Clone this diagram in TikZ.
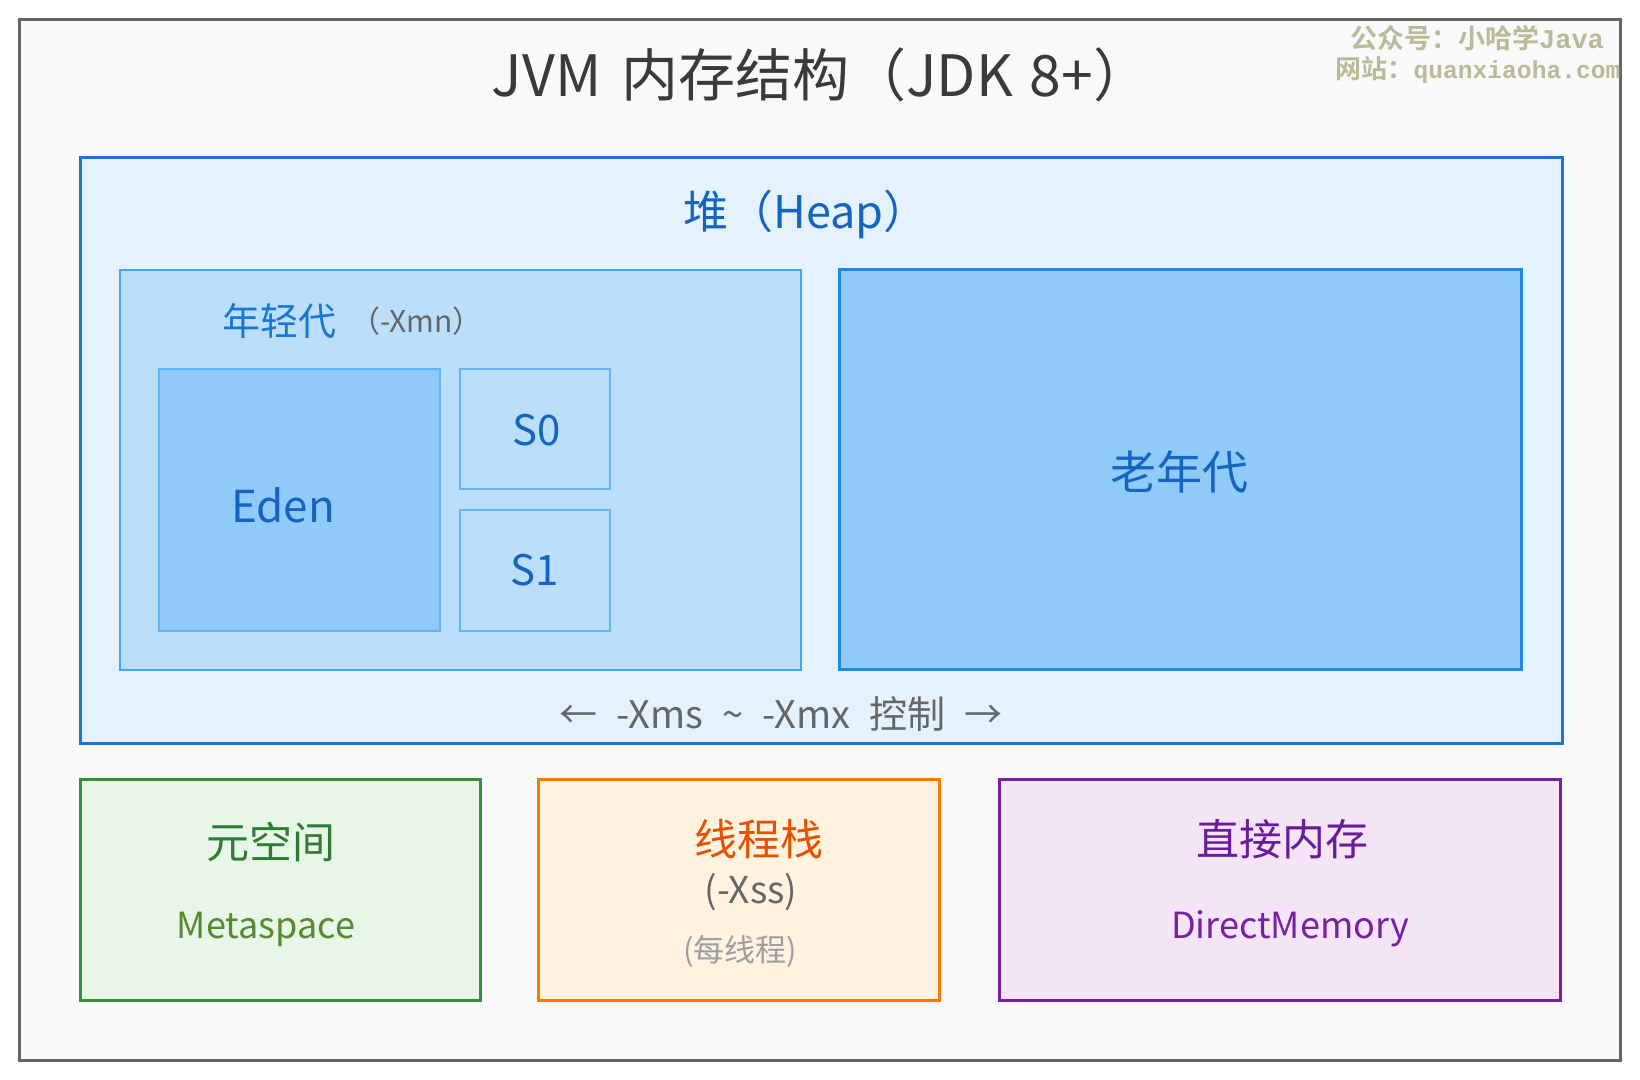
\documentclass[tikz,border=0pt]{standalone}
\usepackage{fontspec}
\setmainfont{Noto Sans CJK SC}
\newfontfamily\wmcjk{Noto Sans CJK SC Bold}
\newfontfamily\wmlat{Liberation Mono}[BoldFont={* Bold}]
\definecolor{framebg}{HTML}{F9F9F9}
\definecolor{framedraw}{HTML}{666666}
\definecolor{heapfill}{HTML}{E3F2FD}
\definecolor{heapdraw}{HTML}{1976D2}
\definecolor{youngfill}{HTML}{BBDEFB}
\definecolor{youngdraw}{HTML}{42A5F5}
\definecolor{edenfill}{HTML}{90CAF9}
\definecolor{edendraw}{HTML}{64B5F6}
\definecolor{olddraw}{HTML}{1E88E5}
\definecolor{bluetext}{HTML}{1565C0}
\definecolor{greenfill}{HTML}{E8F5E9}
\definecolor{greendraw}{HTML}{388E3C}
\definecolor{greentext}{HTML}{2E7D32}
\definecolor{olivetext}{HTML}{558B2F}
\definecolor{orangefill}{HTML}{FFF3E0}
\definecolor{orangedraw}{HTML}{F57C00}
\definecolor{orangetext}{HTML}{E65100}
\definecolor{purplefill}{HTML}{F3E5F5}
\definecolor{purpledraw}{HTML}{7B1FA2}
\definecolor{purpletext}{HTML}{6A1B9A}
\definecolor{titletext}{HTML}{3A3A3A}
\definecolor{graytext}{HTML}{666666}
\definecolor{lightgraytext}{HTML}{9E9E9E}
\definecolor{wmcolor}{RGB}{186,186,152}
\tikzset{
  area/.style={rectangle, inner sep=0pt, outer sep=0pt},
  lbl/.style={inner sep=0pt, outer sep=0pt, anchor=center},
}
\begin{document}
\begin{tikzpicture}[x=0.5pt,y=-0.5pt]
\useasboundingbox (0,0) rectangle (1640,1080);
\fill[white] (0,0) rectangle (1640,1080);
\draw[fill=framebg, draw=framedraw, line width=1.6pt] (19.5,19.5) rectangle (1620.5,1060.5);

% title
\node[lbl, text=titletext, font=\fontsize{28.5}{32}\selectfont] (title) at (821,75) {JVM\hspace{0.35em}内存结构（JDK\hspace{0.3em}8+）};

% watermark
\node[lbl, text=wmcolor, font=\fontsize{13.5}{16}\selectfont] (wm1) at (1477,38) {{\wmcjk 公众号：小哈学}{\wmlat\bfseries Java}};
\node[lbl, text=wmcolor, font=\fontsize{13}{16}\selectfont] (wm2) at (1478,70) {{\wmcjk 网站：}{\wmlat\bfseries\fontsize{12.3}{15}\selectfont quanxiaoha.com}};

% heap
\node[area, fill=heapfill, draw=heapdraw, line width=1.5pt, minimum width=1482*0.5pt, minimum height=585*0.5pt] (heap) at (821,450.5) {};
\node[lbl, text=bluetext, font=\fontsize{22.5}{26}\selectfont] (heaplbl) at (806,214) {堆（Heap）};

% young generation
\node[area, fill=youngfill, draw=youngdraw, line width=1.25pt, minimum width=681*0.5pt, minimum height=400*0.5pt] (young) at (460.5,470) {};
\node[lbl, anchor=west, text=heapdraw, font=\fontsize{19}{23}\selectfont] (younglbl) at (222,321) {年轻代};
\node[lbl, anchor=west, text=graytext, font=\fontsize{15}{18}\selectfont] (xmn) at (350,321) {（-Xmn）};

\node[area, fill=edenfill, draw=edendraw, line width=0.8pt, minimum width=281*0.5pt, minimum height=262*0.5pt] (eden) at (299.5,500) {};
\node[lbl, text=bluetext, font=\fontsize{22}{26}\selectfont] (edenlbl) at (283,505) {Eden};

\node[area, fill=youngfill, draw=edendraw, line width=0.8pt, minimum width=150*0.5pt, minimum height=120*0.5pt] (s0) at (535,429) {};
\node[lbl, text=bluetext, font=\fontsize{21}{25}\selectfont] (s0lbl) at (537,430) {S0};
\node[area, fill=youngfill, draw=edendraw, line width=0.8pt, minimum width=150*0.5pt, minimum height=121*0.5pt] (s1) at (535,570.5) {};
\node[lbl, text=bluetext, font=\fontsize{21}{25}\selectfont] (s1lbl) at (535,570) {S1};

% old generation
\node[area, fill=edenfill, draw=olddraw, line width=1.5pt, minimum width=682*0.5pt, minimum height=400*0.5pt] (old) at (1180,470) {};
\node[lbl, text=bluetext, font=\fontsize{23}{27}\selectfont] (oldlbl) at (1179,472) {老年代};

% size control
\node[lbl, text=graytext, font=\fontsize{19}{23}\selectfont] (xms) at (781,714) {←\hspace{0.5em}-Xms\hspace{0.5em}\textasciitilde\hspace{0.5em}-Xmx\hspace{0.5em}控制\hspace{0.5em}→};

% metaspace
\node[area, fill=greenfill, draw=greendraw, line width=1.5pt, minimum width=400*0.5pt, minimum height=221*0.5pt] (meta) at (280,889.5) {};
\node[lbl, text=greentext, font=\fontsize{21.5}{25}\selectfont] (metalbl) at (271,842) {元空间};
\node[lbl, text=olivetext, font=\fontsize{18}{22}\selectfont] (metaen) at (266,929) {Metaspace};

% thread stack
\node[area, fill=orangefill, draw=orangedraw, line width=1.5pt, minimum width=401*0.5pt, minimum height=221*0.5pt] (stack) at (739,889.5) {};
\node[lbl, text=orangetext, font=\fontsize{21.5}{25}\selectfont] (stacklbl) at (759,839) {线程栈};
\node[lbl, text=graytext, font=\fontsize{18.5}{22}\selectfont] (xss) at (751,892) {(-Xss)};
\node[lbl, text=lightgraytext, font=\fontsize{15.5}{18}\selectfont] (perthread) at (740,951) {(每线程)};

% direct memory
\node[area, fill=purplefill, draw=purpledraw, line width=1.5pt, minimum width=561*0.5pt, minimum height=221*0.5pt] (direct) at (1279.5,889.5) {};
\node[lbl, text=purpletext, font=\fontsize{21.5}{25}\selectfont] (directlbl) at (1282,839) {直接内存};
\node[lbl, text=purpledraw, font=\fontsize{18}{22}\selectfont] (directen) at (1290,929) {DirectMemory};
\end{tikzpicture}
\end{document}
